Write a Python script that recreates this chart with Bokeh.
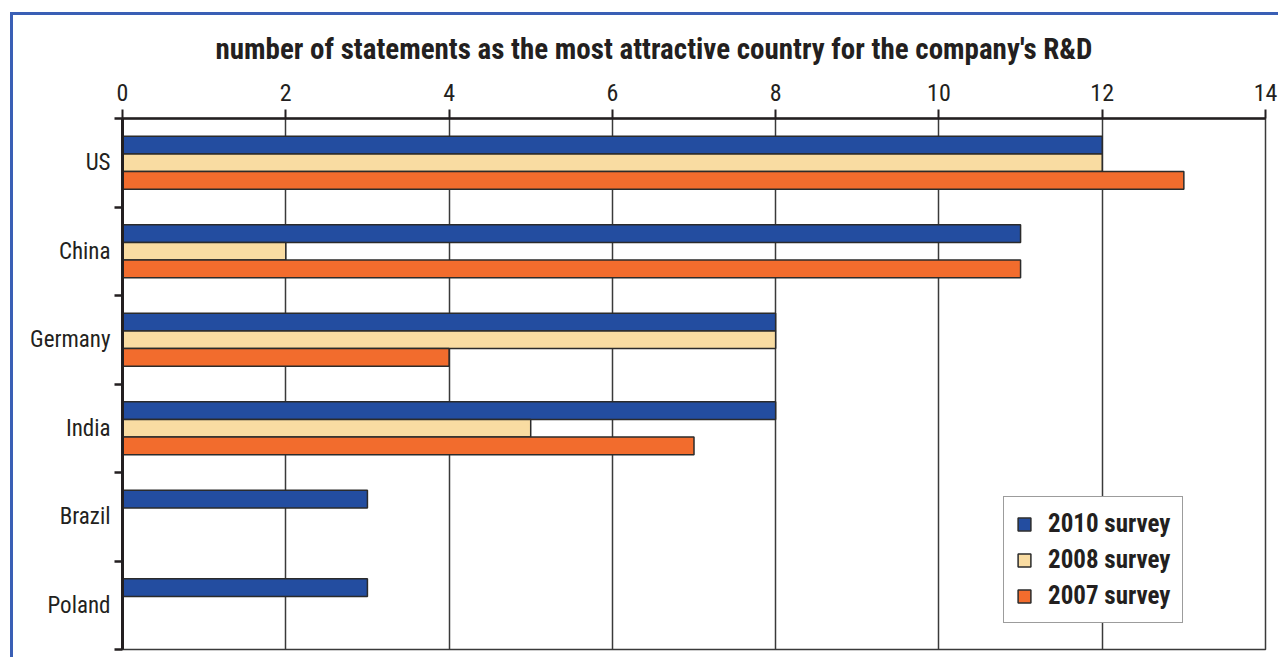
from bokeh.plotting import figure
from bokeh.models import FixedTicker, Legend, LegendItem, ColumnDataSource
from bokeh.embed import file_html
from bokeh.resources import INLINE

countries = ["US", "China", "Germany", "India", "Brazil", "Poland"]
series_names = ["2010 survey", "2008 survey", "2007 survey"]
v2010 = [12, 11, 8, 8, 3, 3]
v2008 = [12, 2, 8, 5, 0, 0]
v2007 = [13, 11, 4, 7, 0, 0]
x_ticks = [0, 2, 4, 6, 8, 10, 12, 14]
title_text = "number of statements as the most attractive country for the company's R&D"

colors = ["#234da0", "#f9dca2", "#f26c2d"]
offsets = [0.2, 0.0, -0.2]
FONT = "'Liberation Sans Narrow', 'Roboto Condensed', 'Liberation Sans', sans-serif"

n = len(countries)
centers = [n - i - 0.5 for i in range(n)]

p = figure(width=1268, height=645, x_range=(0, 14), y_range=(0, n),
           x_axis_location="above", output_backend="svg", toolbar_location=None,
           min_border_left=109, min_border_right=16, min_border_top=102,
           min_border_bottom=11, title=title_text,
           styles={"margin-left": "10px", "margin-top": "12px",
                   "border-left": "3px solid #3a5fb5", "border-top": "3px solid #3a5fb5"})

p.title.align = "left"
p.title.text_font = FONT
p.title.text_font_size = "29px"
p.title.text_font_style = "bold"
p.title.text_color = "#231f20"
p.title.standoff = 29
p.title.offset = 93

renderers = []
for vals, col, off in zip([v2010, v2008, v2007], colors, offsets):
    ys = [c + off for c, v in zip(centers, vals) if v > 0]
    xs = [v for v in vals if v > 0]
    src = ColumnDataSource(dict(y=ys, right=xs))
    r = p.hbar(y="y", left=0, right="right", height=0.2, source=src,
               fill_color=col, line_color="#2b2b2b", line_width=1.5)
    renderers.append(r)

# x axis (top)
xa = p.xaxis[0]
xa.ticker = FixedTicker(ticks=x_ticks, minor_ticks=[])
xa.major_label_text_font = FONT
xa.major_label_text_font_size = "24px"
xa.major_label_text_color = "#231f20"
xa.axis_line_color = "#231f20"
xa.axis_line_width = 2.5
xa.major_tick_line_color = "#231f20"
xa.major_tick_line_width = 2
xa.major_tick_out = 9
xa.major_tick_in = 0
xa.major_label_standoff = 9

# y axis (left)
ya = p.yaxis[0]
ya.ticker = FixedTicker(ticks=centers, minor_ticks=list(range(n + 1)))
ya.major_label_overrides = {c: name for c, name in zip(centers, countries)}
ya.major_label_text_font = FONT
ya.major_label_text_font_size = "23px"
ya.major_label_text_color = "#231f20"
ya.major_tick_out = 0
ya.major_tick_in = 0
ya.minor_tick_out = 8
ya.minor_tick_in = 0
ya.minor_tick_line_color = "#231f20"
ya.minor_tick_line_width = 2.5
ya.axis_line_color = "#231f20"
ya.axis_line_width = 3
ya.major_label_standoff = 4

p.xgrid.ticker = FixedTicker(ticks=x_ticks)
p.xgrid.grid_line_color = "#3a3a3a"
p.xgrid.grid_line_width = 1.5
p.ygrid.grid_line_color = None

p.outline_line_color = "#3a3a3a"
p.outline_line_width = 1.5
p.background_fill_color = "white"
p.border_fill_color = "white"

legend = Legend(items=[LegendItem(label=nm, renderers=[r]) for nm, r in zip(series_names, renderers)],
                location=(881, 26))
legend.label_text_font = FONT
legend.label_text_font_style = "bold"
legend.label_text_font_size = "25px"
legend.label_text_color = "#231f20"
legend.glyph_width = 16
legend.glyph_height = 16
legend.label_height = 24
legend.label_standoff = 16
legend.spacing = 7
legend.padding = 12
legend.margin = 0
legend.border_line_color = "#3a3a3a"
legend.border_line_width = 1.5
legend.background_fill_alpha = 1.0
p.add_layout(legend)

open("out.html", "w").write(file_html(p, INLINE))
